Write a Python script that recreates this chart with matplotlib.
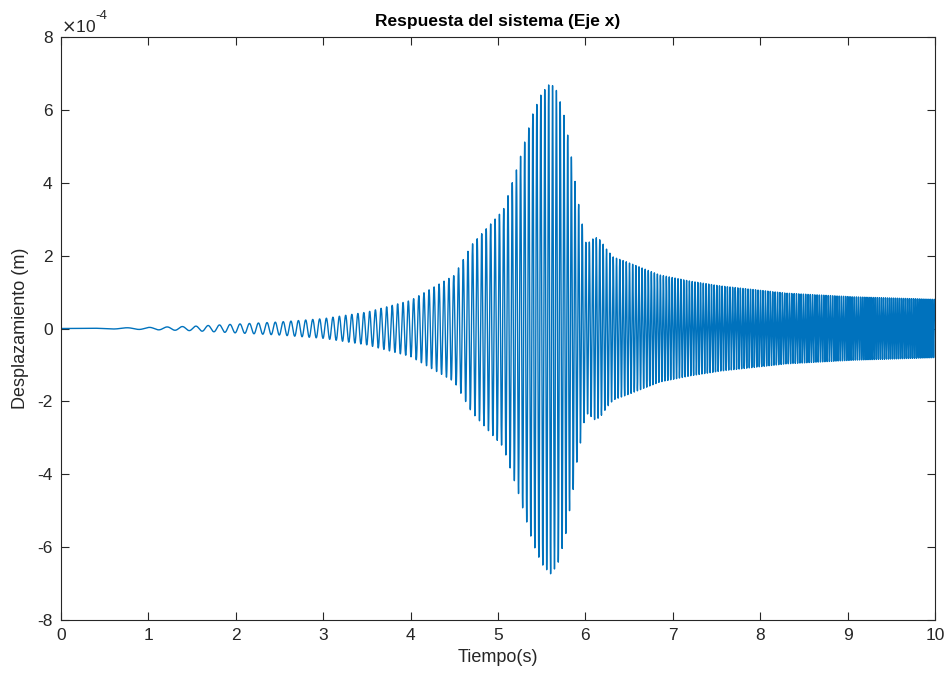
import numpy as np
import matplotlib
matplotlib.use("Agg")
import matplotlib.pyplot as plt

plt.rcParams['font.family'] = ['Liberation Sans', 'DejaVu Sans']
plt.rcParams['axes.unicode_minus'] = False

# Envelope of the displacement (units of 1e-4 m)
env_t = [0, 0.5, 1.0, 1.5, 2.0, 2.5, 3.0, 3.5, 4.0, 4.5, 4.7, 5.06, 5.23, 5.4, 5.5,
         5.6, 5.68, 5.77, 5.81, 5.86, 5.9, 5.95, 6.0, 6.03, 6.11, 6.17, 6.25, 6.32,
         6.47, 6.66, 6.85, 7.2, 7.54, 8.3, 9.06, 10.0]
env_a = [0.0, 0.01, 0.03, 0.06, 0.12, 0.18, 0.27, 0.45, 0.77, 1.46, 2.3, 3.25, 4.49, 5.9, 6.46,
         6.74, 6.5, 5.72, 5.12, 4.43, 3.7, 3.06, 2.37, 2.34, 2.51, 2.43, 2.15, 1.96,
         1.83, 1.65, 1.47, 1.3, 1.17, 0.97, 0.87, 0.8]
# Oscillation frequency (Hz)
freq_t = [0, 1.7, 2.5, 3.5, 4.6, 5.6, 7.0, 10.0]
freq_f = [0, 7.5, 11.0, 15.0, 18.5, 22.5, 30.0, 46.0]

x_ticks = [0, 1, 2, 3, 4, 5, 6, 7, 8, 9, 10]
y_ticks = [-8, -6, -4, -2, 0, 2, 4, 6, 8]

t = np.linspace(0, 10, 20001)
amp = np.interp(t, env_t, env_a) * 1e-4
f = np.interp(t, freq_t, freq_f)
phase = np.concatenate([[0], np.cumsum(0.5 * (f[1:] + f[:-1]) * np.diff(t))]) * 2 * np.pi
y = amp * np.sin(phase)

fig = plt.figure(figsize=(9.47, 6.79), dpi=100)
ax = fig.add_axes([0.0644, 0.0869, 0.9229, 0.8586])
ax.plot(t, y, color='#0072BD', linewidth=1.0)

ax.set_xlim(0, 10)
ax.set_ylim(-8e-4, 8e-4)
ax.set_xticks(x_ticks)
ax.set_xticklabels([str(v) for v in x_ticks])
ax.set_yticks([v * 1e-4 for v in y_ticks])
ax.set_yticklabels([str(v) for v in y_ticks])
ax.tick_params(direction='in', length=6, width=0.8, top=True, right=True,
               labelsize=12.5, colors='#262626', pad=6)
for s in ax.spines.values():
    s.set_color('#262626')
    s.set_linewidth(0.8)

ax.text(0.0, 1.004, r'$\times$10', transform=ax.transAxes, fontsize=12.5,
        color='#262626', ha='left', va='bottom')
ax.text(0.0395, 1.026, '-4', transform=ax.transAxes, fontsize=9.5,
        color='#262626', ha='left', va='bottom')
ax.set_title('Respuesta del sistema (Eje x)', fontsize=12.5, fontweight='bold',
             color='#000000', pad=8)
ax.set_xlabel('Tiempo(s)', fontsize=13, color='#262626', labelpad=4)
ax.set_ylabel('Desplazamiento (m)', fontsize=13, color='#262626', labelpad=6)

fig.savefig('out.png', dpi=100)
